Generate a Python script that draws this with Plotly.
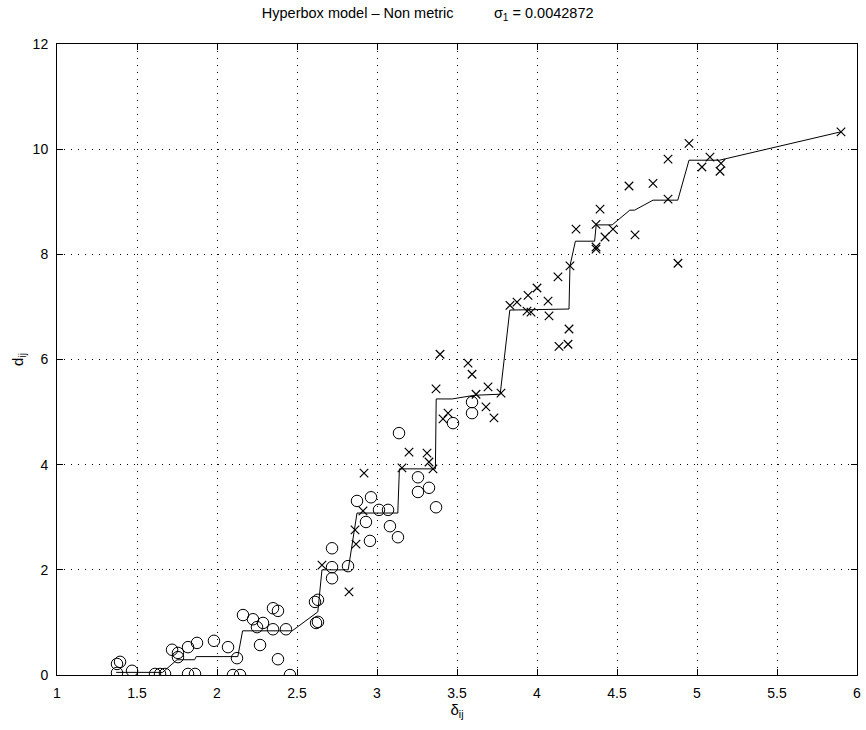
import plotly.graph_objects as go

# circles (o) : delta_ij, d_ij
circ_x = [1.394, 1.375, 1.375, 1.469, 1.6125, 1.644, 1.675, 1.719, 1.756, 1.756,
          1.819, 1.875, 1.981, 2.069, 2.125, 1.819, 1.8625, 2.10, 2.144, 2.1625,
          2.225, 2.25, 2.2875, 2.35, 2.381, 2.35, 2.431, 2.269, 2.381, 2.456,
          2.6125, 2.631, 2.619, 2.631, 2.719, 2.719, 2.719, 2.819, 2.875, 2.9625,
          2.931, 2.956, 3.0125, 3.069, 3.081, 3.131, 3.1375, 3.256, 3.256, 3.325,
          3.369, 3.475, 3.594, 3.594]
circ_y = [0.25, 0.21, 0.04, 0.08, 0.02, 0.02, 0.02, 0.48, 0.42, 0.34,
          0.53, 0.61, 0.65, 0.53, 0.32, 0.02, 0.02, 0.0, 0.0, 1.14,
          1.06, 0.91, 0.99, 1.27, 1.22, 0.87, 0.87, 0.57, 0.30, 0.0,
          1.39, 1.43, 0.99, 1.01, 2.41, 2.05, 1.84, 2.07, 3.31, 3.38,
          2.91, 2.55, 3.14, 3.14, 2.83, 2.62, 4.60, 3.76, 3.48, 3.56,
          3.19, 4.79, 5.19, 4.98]

# crosses (x)
cross_x = [2.656, 2.8625, 2.869, 2.9125, 2.919, 3.156, 3.2, 3.3125, 3.325, 3.35,
           2.825, 3.394, 3.369, 3.569, 3.594, 3.619, 3.694, 3.681, 3.731, 3.775,
           3.444, 3.4125, 3.831, 3.875, 3.944, 4.0, 3.9375, 3.9625, 4.069, 4.075,
           4.131, 4.2, 4.1375, 4.194, 4.206, 4.244, 4.369, 4.369, 4.369, 4.425,
           4.475, 4.6125, 4.394, 4.575, 4.725, 4.819, 4.95, 4.819, 4.881, 5.031,
           5.081, 5.15, 5.144, 5.9]
cross_y = [2.09, 2.76, 2.49, 3.12, 3.84, 3.94, 4.24, 4.22, 4.05, 3.92,
           1.58, 6.10, 5.44, 5.93, 5.72, 5.34, 5.48, 5.10, 4.89, 5.36,
           4.98, 4.87, 7.03, 7.09, 7.22, 7.36, 6.92, 6.90, 7.11, 6.83,
           7.57, 6.58, 6.25, 6.29, 7.78, 8.48, 8.14, 8.10, 8.57, 8.33,
           8.48, 8.37, 8.86, 9.30, 9.35, 9.81, 10.11, 9.05, 7.83, 9.66,
           9.85, 9.73, 9.58, 10.33]

# fitted (monotone) line vertices
fit_x = [1.37, 1.66, 1.75, 1.86, 1.87, 2.13, 2.16, 2.47, 2.63, 2.656, 2.82, 2.875,
         3.13, 3.14, 3.365, 3.37, 3.47, 3.61, 3.77, 3.83, 4.2, 4.206, 4.24, 4.36,
         4.37, 4.47, 4.58, 4.61, 4.725, 4.88, 4.95, 5.14, 5.9]
fit_y = [0.05, 0.05, 0.29, 0.29, 0.35, 0.35, 0.84, 0.84, 1.2, 2.0, 2.0, 3.08,
         3.08, 3.92, 3.92, 5.25, 5.25, 5.32, 5.34, 6.94, 6.96, 7.78, 8.25, 8.25,
         8.56, 8.56, 8.84, 8.84, 9.03, 9.03, 9.79, 9.79, 10.33]

x_ticks = [1, 1.5, 2, 2.5, 3, 3.5, 4, 4.5, 5, 5.5, 6]
x_tick_text = ["1", "1.5", "2", "2.5", "3", "3.5", "4", "4.5", "5", "5.5", "6"]
y_ticks = [0, 2, 4, 6, 8, 10, 12]

FONT = "Liberation Sans, Arial, Helvetica, sans-serif"

fig = go.Figure()
fig.add_trace(go.Scatter(x=fit_x, y=fit_y, mode="lines",
                         line=dict(color="black", width=1), showlegend=False))
fig.add_trace(go.Scatter(x=circ_x, y=circ_y, mode="markers",
                         marker=dict(symbol="circle-open", size=11.5, color="black",
                                     line=dict(width=1, color="black")),
                         showlegend=False))
fig.add_trace(go.Scatter(x=cross_x, y=cross_y, mode="markers",
                         marker=dict(symbol="x-thin-open", size=8.5, color="black",
                                     line=dict(width=1.2, color="black")),
                         showlegend=False))

axis_common = dict(showline=True, linecolor="black", linewidth=1, mirror="allticks",
                   ticks="inside", ticklen=6, tickcolor="black",
                   showgrid=True, gridcolor="black", gridwidth=1, griddash="1px,6px",
                   zeroline=False, automargin=False, ticklabeloverflow="allow",
                   ticklabelstandoff=5,
                   tickfont=dict(family=FONT, size=14, color="black"))

fig.update_xaxes(range=[1, 6], tickvals=x_ticks, ticktext=x_tick_text,
                 title=dict(text="δ<sub>ij</sub>", font=dict(family=FONT, size=15, color="black"),
                            standoff=4),
                 **axis_common)
fig.update_yaxes(range=[0, 12], tickvals=y_ticks,
                 title=dict(text="d<sub>ij</sub>", font=dict(family=FONT, size=15, color="black"),
                            standoff=5),
                 **axis_common)

fig.update_layout(
    width=866, height=730,
    margin=dict(l=57, r=9, t=44, b=55),
    paper_bgcolor="white", plot_bgcolor="white",
    font=dict(family=FONT, color="black"),
    title=dict(text="Hyperbox model \u2013 Non metric" + "\u00a0" * 10 + "σ<sub>1</sub> = 0.0042872",
               x=0.256, xref="paper", xanchor="left", y=0.989, yanchor="top",
               font=dict(family=FONT, size=14.5, color="black")),
)

fig.write_html("out.html", config={"displayModeBar": False},
               post_script="document.body.style.margin='0px';")
